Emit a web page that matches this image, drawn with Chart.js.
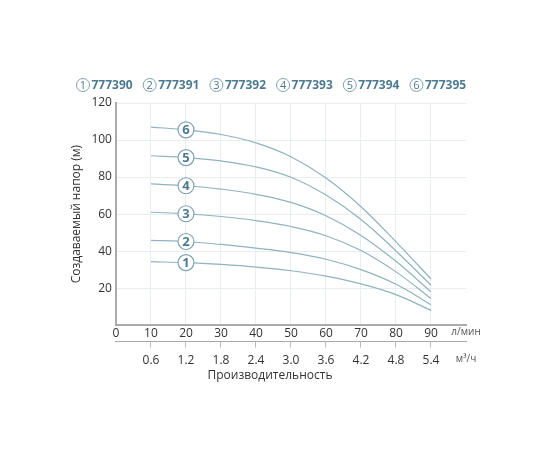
<!DOCTYPE html>
<html>
<head>
<meta charset="utf-8">
<script src="https://cdn.jsdelivr.net/npm/chart.js@4/dist/chart.umd.min.js"></script>
<style>
  html, body { margin: 0; padding: 0; background: #fff; }
  #wrap { width: 560px; height: 460px; position: relative; }
</style>
</head>
<body>
<div id="wrap"><canvas id="pump" width="560" height="460"></canvas></div>
<script>
/* Pump head curves: head (m) vs flow (l/min) */

const FLOW_LMIN = [10, 20, 30, 40, 50, 60, 70, 80, 90];
const FLOW_M3H = ['0.6', '1.2', '1.8', '2.4', '3.0', '3.6', '4.2', '4.8', '5.4'];
const MODELS = ['777390', '777391', '777392', '777393', '777394', '777395'];

const HEAD_1 = [34.3, 33.8, 32.8, 31.4, 29.4, 26.5, 22.3, 16.5, 8.0];
const HEAD_2 = [45.8, 45.2, 43.6, 41.6, 39.2, 35.6, 30.0, 22.1, 11.1];
const HEAD_3 = [61.0, 60.2, 58.7, 56.5, 53.3, 48.3, 40.3, 28.8, 14.4];
const HEAD_4 = [76.3, 75.3, 73.5, 70.7, 66.3, 59.1, 48.5, 34.5, 18.0];
const HEAD_5 = [91.5, 90.5, 88.7, 85.5, 79.9, 70.3, 57.1, 40.1, 21.6];
const HEAD_6 = [107.0, 105.5, 103.0, 98.5, 91.0, 79.5, 64.0, 45.0, 25.0];

const HEADS = [HEAD_1, HEAD_2, HEAD_3, HEAD_4, HEAD_5, HEAD_6];
const LABEL_AT = 1; // circle marker sits on the 20 l/min point

const LINE = '#8fb3bf';
const RING = '#7fa2b2';
const INK = '#4c7b91';
const FONT = "'Open Sans', 'DejaVu Sans', sans-serif";

// numbered circles on curves + top legend + axis caption
const decor = {
  id: 'decor',
  afterDatasetsDraw(chart) {
    const ctx = chart.ctx;
    ctx.save();
    ctx.textAlign = 'center';
    ctx.textBaseline = 'middle';
    ctx.fillStyle = INK;
    ctx.font = `bold 13px ${FONT}`;
    chart.data.datasets.forEach((ds, i) => {
      const pt = chart.getDatasetMeta(i).data[LABEL_AT];
      ctx.fillText(String(i + 1), pt.x, pt.y + 0.5);
    });
    ctx.restore();
  },
  afterDraw(chart) {
    const ctx = chart.ctx;
    const a = chart.chartArea;
    ctx.save();
    // legend row
    const y = 85;
    MODELS.forEach((m, i) => {
      const cx = a.left - 33 + i * 66.7;
      ctx.beginPath();
      ctx.arc(cx, y, 6.5, 0, Math.PI * 2);
      ctx.strokeStyle = RING;
      ctx.lineWidth = 1;
      ctx.stroke();
      ctx.fillStyle = INK;
      ctx.textAlign = 'center';
      ctx.textBaseline = 'middle';
      ctx.font = `11px ${FONT}`;
      ctx.fillText(String(i + 1), cx, y + 0.5);
      ctx.textAlign = 'left';
      ctx.font = `bold 12px ${FONT}`;
      ctx.fillText(m, cx + 8.5, y + 0.5);
    });
    // x caption
    const x2 = chart.scales.x2;
    ctx.fillStyle = '#333';
    ctx.textAlign = 'center';
    ctx.textBaseline = 'middle';
    ctx.font = `12px ${FONT}`;
    ctx.fillText('Производительность', chart.scales.x.getPixelForValue(44), x2.top + 34);
    ctx.restore();
  }
};

new Chart(document.getElementById('pump'), {
  type: 'line',
  data: {
    datasets: HEADS.map((h, i) => ({
      label: MODELS[i],
      data: FLOW_LMIN.map((q, k) => ({ x: q, y: h[k] })),
      borderColor: LINE,
      borderWidth: 1.2,
      tension: 0.4,
      pointRadius: c => c.dataIndex === LABEL_AT ? 8 : 0,
      pointHoverRadius: c => c.dataIndex === LABEL_AT ? 8 : 0,
      pointBackgroundColor: '#fff',
      pointBorderColor: RING,
      pointBorderWidth: 1.2,
      fill: false
    }))
  },
  options: {
    responsive: false,
    animation: false,
    events: [],
    layout: { padding: { top: 103, left: 65, right: 94, bottom: 86 } },
    plugins: { legend: { display: false }, tooltip: { enabled: false } },
    scales: {
      x: {
        type: 'linear', position: 'bottom', min: 0, max: 100,
        border: { color: '#aaa', width: 2 },
        grid: {
          drawTicks: false,
          color: c => (c.tick && c.tick.value > 0 && c.tick.value < 100) ? '#e8edef' : 'rgba(0,0,0,0)'
        },
        ticks: {
          stepSize: 10, padding: 1, maxRotation: 0, autoSkip: false,
          callback: v => v === 100 ? 'л/мин' : v,
          color: c => c.tick && c.tick.value === 100 ? '#555' : '#333',
          font: c => (c.tick && c.tick.value === 100) ? { size: 10, family: FONT } : { size: 12, family: FONT }
        }
      },
      x2: {
        type: 'linear', position: 'bottom', min: 0, max: 100,
        border: { color: '#aaa', width: 1 },
        grid: {
          drawOnChartArea: false, tickLength: 6,
          color: c => (c.tick && c.tick.value > 0 && c.tick.value < 100) ? '#bbb' : 'rgba(0,0,0,0)'
        },
        ticks: {
          stepSize: 10, padding: 6, maxRotation: 0, autoSkip: false,
          callback: v => v === 0 ? '' : v === 100 ? 'м³/ч' : FLOW_M3H[v / 10 - 1],
          color: c => c.tick && c.tick.value === 100 ? '#555' : '#333',
          font: c => (c.tick && c.tick.value === 100) ? { size: 10, family: FONT } : { size: 12, family: FONT }
        }
      },
      y: {
        min: 0, max: 120,
        border: { color: '#aaa', width: 2 },
        grid: {
          drawTicks: false,
          color: c => (c.tick && c.tick.value > 0) ? '#e8edef' : 'rgba(0,0,0,0)'
        },
        ticks: {
          stepSize: 20, padding: 4,
          callback: v => v === 0 ? '' : v,
          color: '#333', font: { size: 12, family: FONT }
        },
        title: {
          display: true, text: 'Создаваемый напор (м)',
          color: '#333', font: { size: 12, family: FONT }, padding: { top: 4, bottom: 4 }
        }
      }
    }
  },
  plugins: [decor]
});
</script>
</body>
</html>
